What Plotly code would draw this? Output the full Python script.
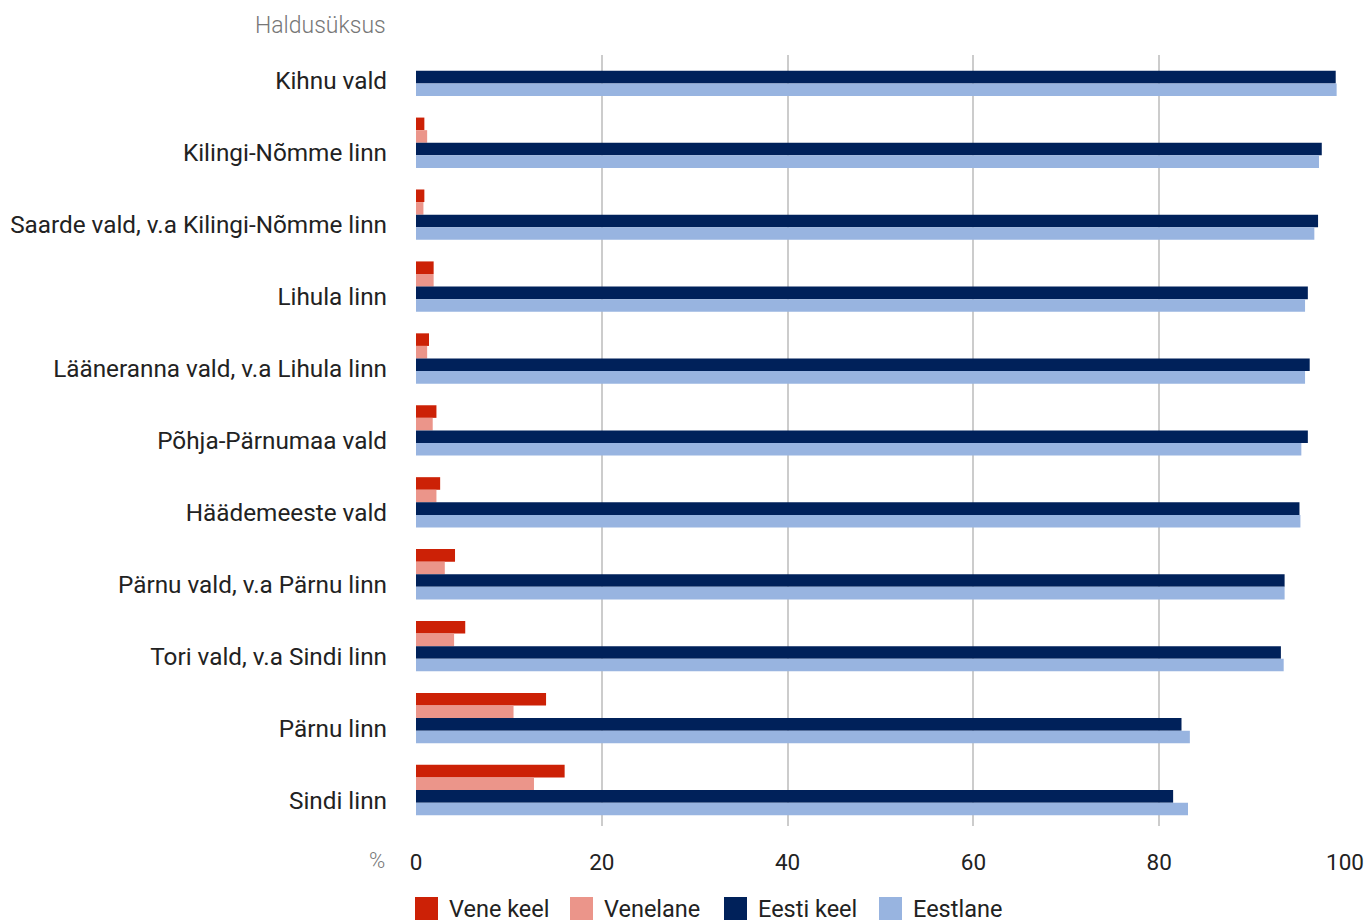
import plotly.graph_objects as go

categories = [
    "Kihnu vald",
    "Kilingi-Nõmme linn",
    "Saarde vald, v.a Kilingi-Nõmme linn",
    "Lihula linn",
    "Lääneranna vald, v.a Lihula linn",
    "Põhja-Pärnumaa vald",
    "Häädemeeste vald",
    "Pärnu vald, v.a Pärnu linn",
    "Tori vald, v.a Sindi linn",
    "Pärnu linn",
    "Sindi linn",
]
vene_keel = [0.0, 0.9, 0.9, 1.9, 1.4, 2.2, 2.6, 4.2, 5.3, 14.0, 16.0]
venelane = [0.0, 1.2, 0.8, 1.9, 1.2, 1.8, 2.2, 3.1, 4.1, 10.5, 12.7]
eesti_keel = [99.0, 97.5, 97.1, 96.0, 96.2, 96.0, 95.1, 93.5, 93.1, 82.4, 81.5]
eestlane = [99.1, 97.2, 96.7, 95.7, 95.7, 95.3, 95.2, 93.5, 93.4, 83.3, 83.1]

series_names = ["Vene keel", "Venelane", "Eesti keel", "Eestlane"]
series_values = [vene_keel, venelane, eesti_keel, eestlane]
colors = ["#CC2106", "#EB958A", "#00215A", "#98B4E0"]
x_ticks = [0, 20, 40, 60, 80, 100]

W, H = 1365, 923
ML, MR, MT, MB = 416, 20, 55, 97
PW, PH = W - ML - MR, H - MT - MB
FONT = "Roboto, 'Noto Sans', sans-serif"
TXT = "#222222"

fig = go.Figure()
for name, vals, col in zip(series_names, series_values, colors):
    fig.add_trace(go.Bar(
        y=categories, x=vals, name=name, orientation="h",
        marker=dict(color=col, line=dict(width=0)),
        showlegend=False, hoverinfo="x+y+name",
    ))

fig.update_layout(
    width=W, height=H,
    margin=dict(l=ML, r=MR, t=MT, b=MB, pad=0, autoexpand=False),
    paper_bgcolor="white", plot_bgcolor="white",
    barmode="group", bargap=0.3, bargroupgap=0,
    font=dict(family=FONT, color=TXT),
    xaxis=dict(
        range=[0, 100], tickvals=x_ticks, ticktext=[str(t) for t in x_ticks],
        showgrid=True, gridcolor="#cccccc", gridwidth=1.5,
        zeroline=False, showline=False, ticks="", automargin=False,
        tickfont=dict(size=22.5, color=TXT),
        ticklabelstandoff=20,
    ),
    yaxis=dict(
        type="category", categoryorder="array", categoryarray=categories,
        range=[10.5, -0.22], showgrid=False, zeroline=False, showline=False,
        ticks="", automargin=False, tickfont=dict(size=24.3, color=TXT),
        ticklabelstandoff=28, ticklabelshift=-10,
    ),
)

def px_x(x):
    return (x - ML) / PW

def px_y(y):
    return (H - MB - y) / PH

# axis titles
fig.add_annotation(x=px_x(388), y=px_y(26), xref="paper", yref="paper",
                   text="Haldusüksus", showarrow=False, xanchor="right", yanchor="middle",
                   font=dict(family=FONT, size=23, color="#777777", weight=300))
fig.add_annotation(x=px_x(387), y=px_y(860), xref="paper", yref="paper",
                   text="%", showarrow=False, xanchor="right", yanchor="middle",
                   font=dict(family=FONT, size=22, color="#777777", weight=300))

# custom legend
legend_x = [415, 570, 724, 879]
for lx, name, col in zip(legend_x, series_names, colors):
    fig.add_shape(type="rect", xref="paper", yref="paper",
                  x0=px_x(lx), x1=px_x(lx + 23), y0=px_y(920), y1=px_y(897),
                  fillcolor=col, line=dict(width=0))
    fig.add_annotation(x=px_x(lx + 32), y=px_y(909), xref="paper", yref="paper",
                       text=name, showarrow=False, xanchor="left", yanchor="middle",
                       font=dict(family=FONT, size=23.5, color=TXT))

fig.write_html("out.html", config={"displayModeBar": False},
               post_script="document.body.style.margin='0';")
